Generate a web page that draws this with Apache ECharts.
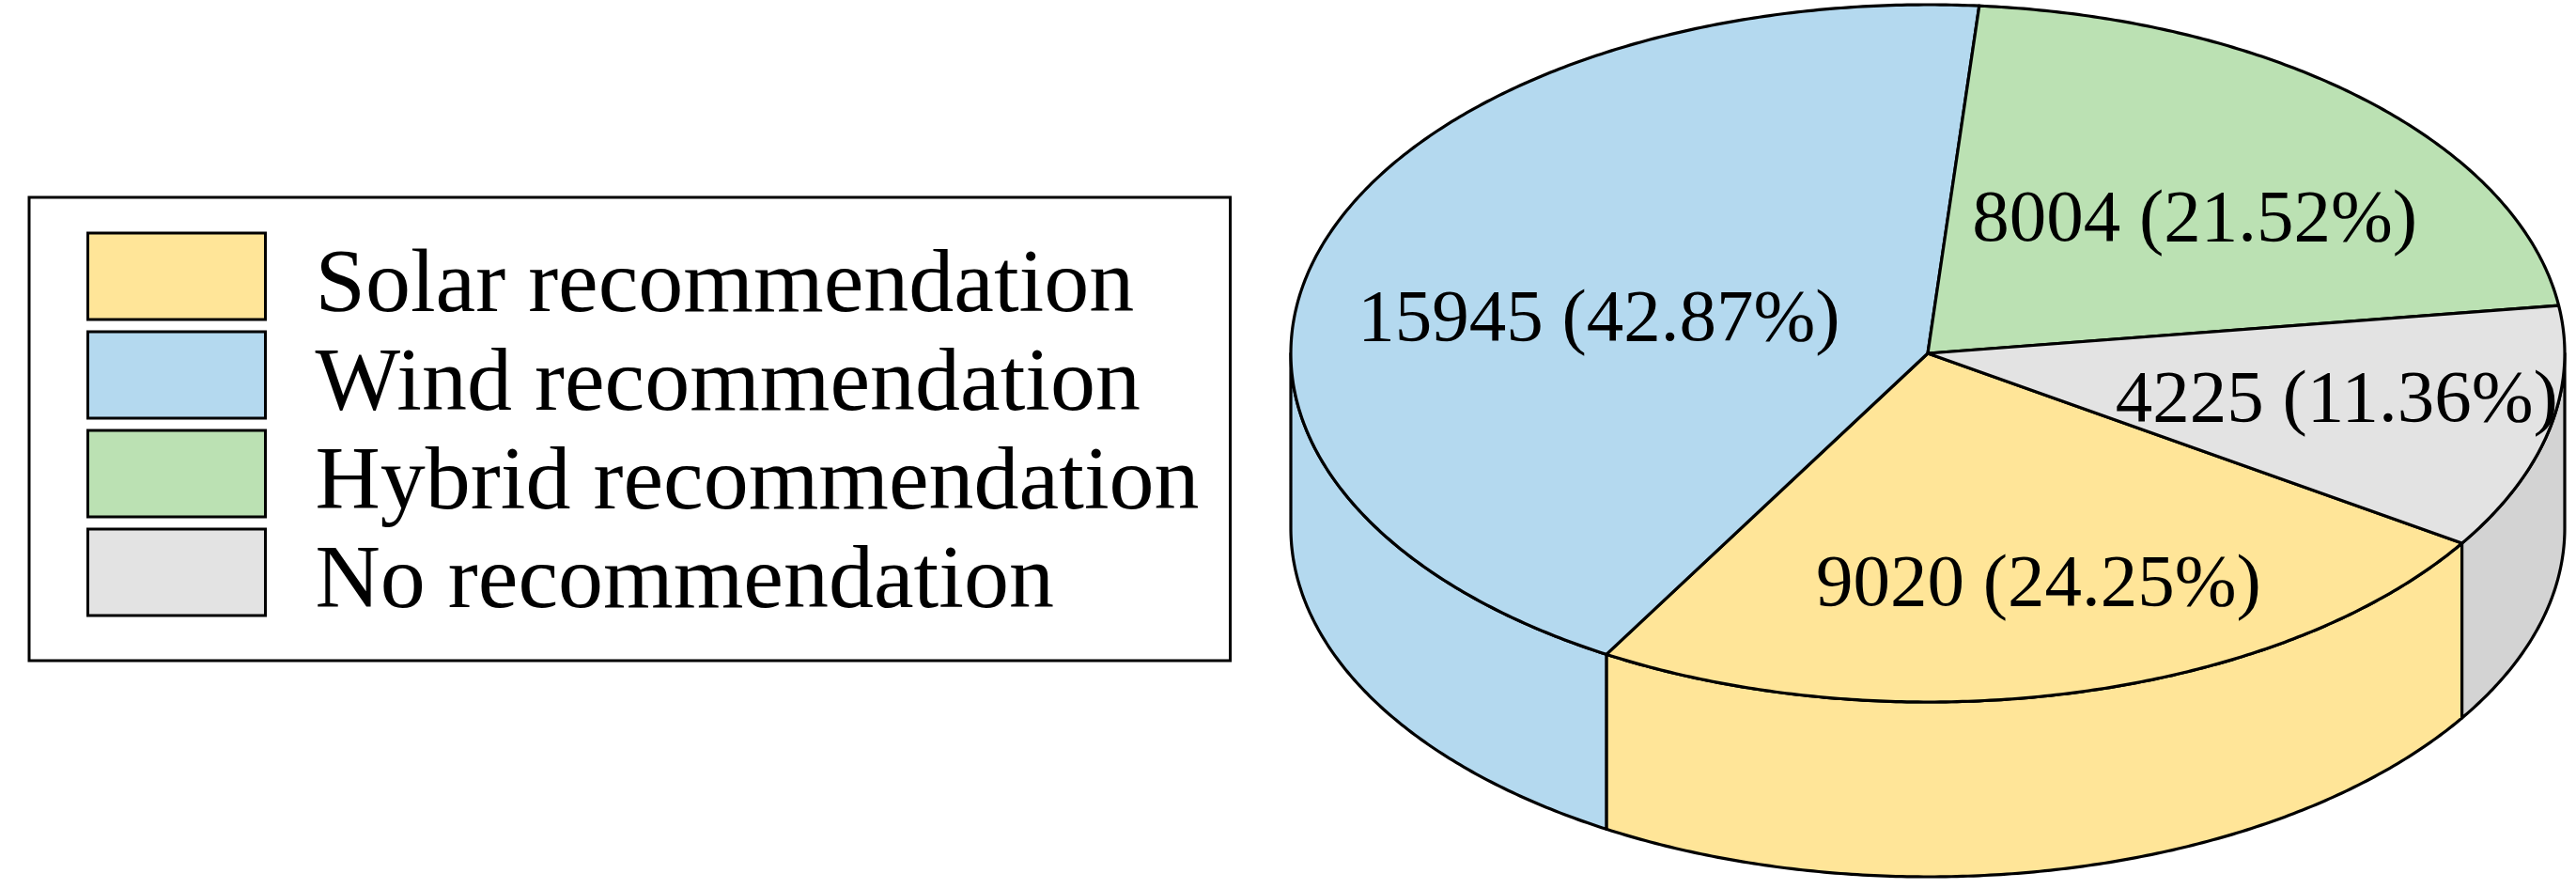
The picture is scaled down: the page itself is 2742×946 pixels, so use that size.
<!DOCTYPE html>
<html>
<head>
<meta charset="utf-8">
<script src="https://cdn.jsdelivr.net/npm/echarts@6/dist/echarts.min.js"></script>
<style>
html,body{margin:0;padding:0;background:#fff;}
#chart{width:2742px;height:946px;}
</style>
</head>
<body>
<div id="chart"></div>
<script>
// ---- data ----
const categories = ['Solar recommendation', 'Wind recommendation', 'Hybrid recommendation', 'No recommendation'];
const counts = [9020, 15945, 8004, 4225];

// ---- style ----
const topColors  = ['#FFE598', '#B4D9EF', '#BBE1B3', '#E3E3E3'];
const sideColors = ['#FFE598', '#B4D9EF', '#BBE1B3', '#D3D3D3'];
const labelRadius = [0.688, 0.525, 0.565, 0.657];
const labelAngleShift = [-1.3, -7.1, 4.5, -0.3];
const FONT = '"Liberation Serif", "Times New Roman", serif';

const total = counts.reduce((a, b) => a + b, 0);
const START = 123;             // degrees, clockwise from 12 o'clock
const CX = 2052, CY = 376, RX = 678, RY = 371, DEPTH = 186;

function pt(deg, dy) {
  const r = deg * Math.PI / 180;
  return [CX + RX * Math.sin(r), CY - RY * Math.cos(r) + (dy || 0)];
}
function arc(a0, a1, dy) {
  const pts = [];
  const n = Math.max(2, Math.ceil(Math.abs(a1 - a0) / 0.5));
  for (let k = 0; k <= n; k++) pts.push(pt(a0 + (a1 - a0) * k / n, dy));
  return pts;
}

function renderSlice(params, api) {
  const i = params.seriesIndex;
  let before = 0;
  for (let k = 0; k < i; k++) before += counts[k];
  const v = api.value(0);
  const a0 = START + 360 * before / total;
  const a1 = a0 + 360 * v / total;
  const children = [];
  // side walls (front half: 90..270 and 450..630)
  [[90, 270], [450, 630]].forEach(([f0, f1]) => {
    const s = Math.max(a0, f0), e = Math.min(a1, f1);
    if (e > s) {
      const pts = arc(s, e, 0).concat(arc(e, s, DEPTH));
      children.push({
        type: 'polygon', z2: 1,
        shape: { points: pts },
        style: { fill: sideColors[i], stroke: '#000', lineWidth: 3.2, lineJoin: 'round' }
      });
    }
  });
  // top face
  const topPts = [[CX, CY]].concat(arc(a0, a1, 0));
  children.push({
    type: 'polygon', z2: 5,
    shape: { points: topPts },
    style: { fill: topColors[i], stroke: '#000', lineWidth: 3.2, lineJoin: 'round' }
  });
  // label
  const mid = ((a0 + a1) / 2 + labelAngleShift[i]) * Math.PI / 180;
  const lr = labelRadius[i];
  const pct = (100 * v / total).toFixed(2);
  children.push({
    type: 'text', z2: 100,
    x: CX + RX * lr * Math.sin(mid),
    y: CY - RY * lr * Math.cos(mid),
    style: {
      text: v + ' (' + pct + '%)',
      font: '79px ' + FONT,
      fill: '#000',
      align: 'center',
      verticalAlign: 'middle'
    }
  });
  return { type: 'group', children: children };
}

const chart = echarts.init(document.getElementById('chart'), null, { renderer: 'canvas' });
chart.setOption({
  backgroundColor: '#fff',
  animation: false,
  legend: {
    orient: 'vertical',
    left: 31,
    top: 210,
    padding: [24, 33, 34, 61],
    borderColor: '#000',
    borderWidth: 3,
    itemWidth: 189,
    itemHeight: 92,
    itemGap: -15,
    icon: 'rect',
    selectedMode: false,
    itemStyle: { borderColor: '#000', borderWidth: 3 },
    formatter: '{s| }{a|{name}}',
    textStyle: {
      fontFamily: FONT,
      fontSize: 96,
      color: '#000',
      padding: [0, 0, 0, 47],
      rich: {
        s: { height: 120, width: 1, fontSize: 1, lineHeight: 120 },
        a: { fontFamily: FONT, fontSize: 96, color: '#000', lineHeight: 92, verticalAlign: 'bottom' }
      }
    },
    data: categories
  },
  series: categories.map((name, i) => ({
    type: 'custom',
    name: name,
    coordinateSystem: 'none',
    itemStyle: { color: topColors[i] },
    renderItem: renderSlice,
    data: [[counts[i]]]
  }))
});
</script>
</body>
</html>
